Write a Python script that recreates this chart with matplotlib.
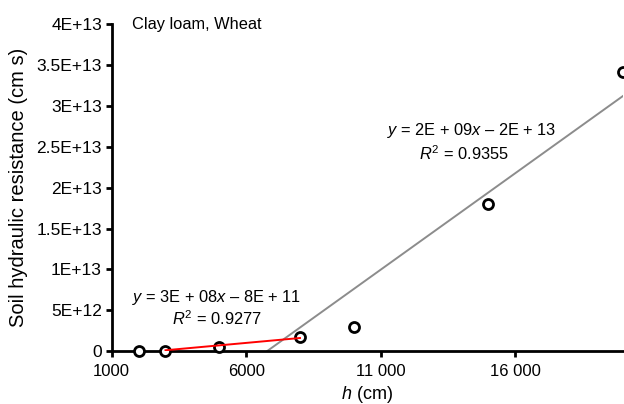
import numpy as np
import matplotlib
matplotlib.use('Agg')
import matplotlib.pyplot as plt

plt.rcParams['font.family'] = ['Liberation Sans', 'DejaVu Sans']
plt.rcParams['mathtext.fontset'] = 'custom'
plt.rcParams['mathtext.rm'] = 'Liberation Sans'
plt.rcParams['mathtext.it'] = 'Liberation Sans:italic'

# measured points
h_cm = [2000, 3000, 5000, 8000, 10000, 15000, 20000]
resistance = [0, 0, 5e11, 1.75e12, 3e12, 1.8e13, 3.41e13]

# trend lines (slope, intercept, x range)
red_fit = [3e8, -8e11]
red_range = [3000, 8000]
grey_fit = [2.36e9, -1.6e13]
grey_range = [6780, 20000]

x_ticks = [1000, 6000, 11000, 16000]
x_ticklabels = ['1000', '6000', '11 000', '16 000']
y_ticks = [0, 5e12, 1e13, 1.5e13, 2e13, 2.5e13, 3e13, 3.5e13, 4e13]
y_ticklabels = ['0', '5E+12', '1E+13', '1.5E+13', '2E+13', '2.5E+13',
                '3E+13', '3.5E+13', '4E+13']

fig = plt.figure(figsize=(6.24, 4.04), dpi=100)
ax = fig.add_axes([0.179, 0.131, 0.819, 0.809])

ax.plot(h_cm, resistance, 'o', markersize=7.2, markerfacecolor='white',
        markeredgecolor='black', markeredgewidth=2, zorder=3, clip_on=False)

xr = np.array(red_range)
ax.plot(xr, np.polyval(red_fit, xr), color='red', lw=1.4, zorder=4)
xg = np.array(grey_range)
ax.plot(xg, np.polyval(grey_fit, xg), color='#8c8c8c', lw=1.4, zorder=2)

ax.set_xlim(1000, 20000)
ax.set_ylim(0, 4e13)
ax.set_xticks(x_ticks)
ax.set_xticklabels(x_ticklabels)
ax.set_yticks(y_ticks)
ax.set_yticklabels(y_ticklabels)

for s in ['top', 'right']:
    ax.spines[s].set_visible(False)
for s in ['left', 'bottom']:
    ax.spines[s].set_linewidth(2)
ax.tick_params(direction='out', length=4, width=2, pad=3)
ax.tick_params(axis='x', labelsize=12, pad=5)
ax.tick_params(axis='y', labelsize=12.5)

ax.set_xlabel('$h$ (cm)', fontsize=13, labelpad=4)
ax.set_ylabel('Soil hydraulic resistance (cm s)', fontsize=14.5, labelpad=6)

ax.text(0.04, 1.0, 'Clay loam, Wheat', transform=ax.transAxes,
        fontsize=11.8, va='center', ha='left')

ax.text(4900, 6.5e12, '$y$ = 3E + 08$x$ \u2013 8E + 11', fontsize=11.8,
        ha='center', va='center')
ax.text(4900, 4.0e12, '$R^2$ = 0.9277', fontsize=11.8, ha='center', va='center')
ax.text(14400, 2.7e13, '$y$ = 2E + 09$x$ \u2013 2E + 13', fontsize=11.8,
        ha='center', va='center')
ax.text(14100, 2.42e13, '$R^2$ = 0.9355', fontsize=11.8, ha='center', va='center')

plt.savefig('out.png', dpi=100)
plt.close()
